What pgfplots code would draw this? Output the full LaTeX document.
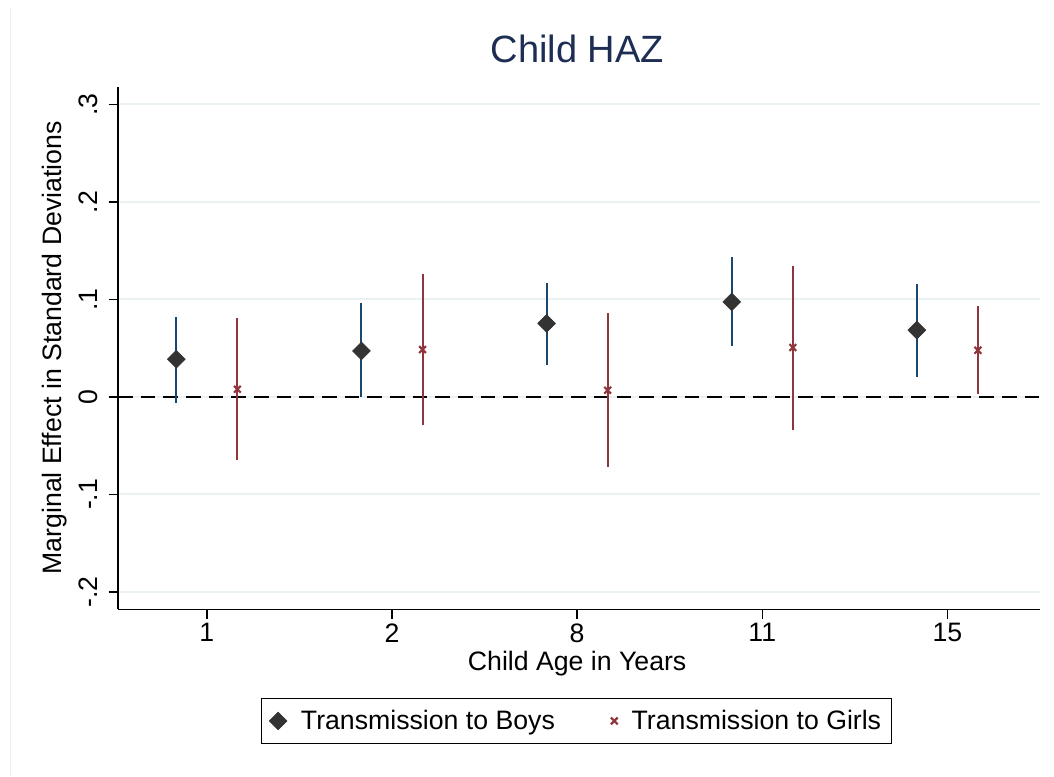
\documentclass[border=0pt]{standalone}
\usepackage{fontspec}
\setmainfont{Liberation Sans}
\usepackage{pgfplots}
\usepackage{pgfplotstable}
\pgfplotsset{compat=1.18}
\definecolor{stnavy}{RGB}{26,71,111}
\definecolor{stmaroon}{RGB}{144,53,59}
\definecolor{stdark}{RGB}{51,51,51}
\definecolor{sttitle}{RGB}{30,45,83}
\definecolor{stgrid}{RGB}{234,242,243}

\pgfplotstableread{
x      y       ep      em
0.835  0.0387  0.0434  0.0445
1.835  0.0472  0.0487  0.0472
2.835  0.0754  0.0418  0.0429
3.835  0.0975  0.0456  0.0455
4.835  0.0685  0.0472  0.0480
}\boys

\pgfplotstableread{
x      y       ep      em
1.165  0.0079  0.0732  0.0729
2.165  0.0486  0.0780  0.0777
3.165  0.0069  0.0787  0.0788
4.165  0.0507  0.0838  0.0842
5.165  0.0479  0.0452  0.0444
}\girls

\begin{document}
\begin{tikzpicture}
\path[use as bounding box, fill=white] (0,0) rectangle (790.5pt,582pt);
\draw[black!6, line width=0.75pt] (7.5pt,0pt) -- (7.5pt,576pt);
\begin{axis}[
  at={(88.5pt,124.9pt)}, anchor=south west,
  scale only axis, width=691.5pt, height=391.9pt,
  xmin=0.52, xmax=5.5, ymin=-0.218, ymax=0.318,
  axis x line=bottom, axis y line=left,
  axis line style={-, line width=1pt, black},
  xtick={1,2,3,4,5}, xticklabels={1,2,8,11,15},
  ytick={-0.2,-0.1,0,0.1,0.2,0.3}, yticklabels={-.2,-.1,0,.1,.2,.3},
  tick align=outside, major tick length=7pt,
  tick style={black, line width=1pt},
  ymajorgrids, grid style={stgrid, line width=1.5pt},
  /pgf/number format/assume math mode=true,
  ticklabel style={font=\fontsize{20}{24}\selectfont},
  yticklabel style={rotate=90, anchor=south},
  yticklabel shift=5pt,
  xlabel={Child Age in Years},
  ylabel={Marginal Effect in Standard Deviations},
  label style={font=\fontsize{20}{24}\selectfont},
  xlabel style={at={(axis description cs:0.498,-0.1043)}, anchor=center},
  ylabel style={at={(axis description cs:-0.0683,0.5005)}, anchor=center, rotate=0},
  title={Child HAZ},
  title style={at={(axis description cs:0.498,1.0575)}, anchor=center,
    font=\fontsize{28.5}{32}\selectfont, text=sttitle},
  legend columns=2,
  legend image code/.code={\draw[#1] plot coordinates {(0pt,0pt)};},
  legend style={at={(axis description cs:0.4973,-0.2134)}, anchor=center,
    draw=black, line width=1pt, font=\fontsize{20}{24}\selectfont,
    /tikz/every odd column/.append style={column sep=8.5pt},
    /tikz/every even column/.append style={column sep=40pt},
    inner xsep=6pt, inner ysep=7pt},
  legend cell align=left,
]
\addplot[black, line width=1.5pt, dash pattern=on 11pt off 6pt, forget plot]
  coordinates {(0.52,0) (5.5,0)};
\addplot[only marks, mark=square*, mark size=4.7pt,
  mark options={rotate=45, fill=stdark, draw=stdark, line width=0.5pt},
  error bars/.cd, y dir=both, y explicit, error mark=none,
  error bar style={stnavy, line width=1.5pt}]
  table[x=x, y=y, y error plus=ep, y error minus=em] {\boys};
\addlegendentry{Transmission to Boys}
\addplot[only marks, mark=x, mark size=3.6pt,
  mark options={stmaroon, line width=1.6pt},
  error bars/.cd, y dir=both, y explicit, error mark=none,
  error bar style={stmaroon, line width=1.5pt}]
  table[x=x, y=y, y error plus=ep, y error minus=em] {\girls};
\addlegendentry{Transmission to Girls\hspace{10pt}}
\end{axis}
\end{tikzpicture}
\end{document}
